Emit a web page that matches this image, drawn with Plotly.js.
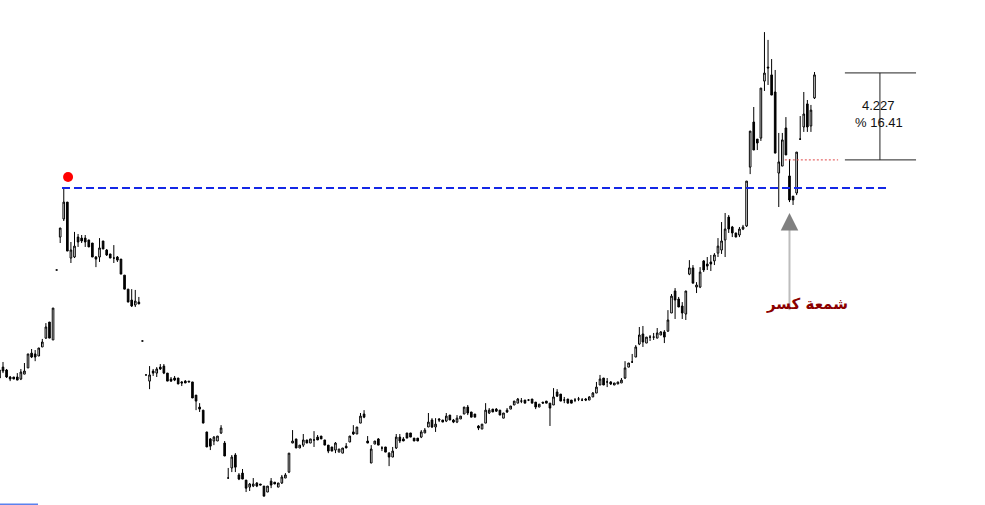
<!DOCTYPE html>
<html>
<head>
<meta charset="utf-8">
<script src="https://cdn.plot.ly/plotly-3.0.1.min.js"></script>
<style>html,body{margin:0;padding:0;background:#fff;}#chart{width:985px;height:505px;}</style>
</head>
<body>
<div id="chart"></div>
<script>
// OHLC values (one candle per session)
var openP = [15.55,15.69,15.55,15.21,15.21,15.21,15.11,15.35,15.65,16.37,16.33,16.23,16.67,17.10,17.88,17.01,20.41,22.01,22.89,23.71,
20.99,21.04,22.01,21.96,21.96,21.87,21.72,21.04,21.04,21.82,21.38,21.19,20.99,21.04,20.94,20.16,19.48,18.95,18.71,18.85,
16.96,15.31,15.01,15.50,15.40,15.69,15.74,15.40,15.11,15.16,15.16,14.97,15.01,15.01,14.97,14.33,13.75,13.60,12.54,12.20,
12.10,12.10,12.49,12.00,10.30,10.79,11.42,10.45,10.54,10.20,9.86,9.91,10.06,10.01,9.91,9.62,10.15,10.10,9.86,10.06,
10.30,10.59,12.00,12.20,11.76,11.90,12.15,12.00,12.15,12.29,12.34,12.15,11.90,11.81,11.66,11.56,11.51,11.85,12.05,12.54,
12.44,12.97,13.41,12.10,11.03,11.95,12.20,11.76,11.81,11.51,11.32,11.76,12.29,12.20,12.49,12.49,12.24,12.24,12.29,12.49,
12.78,13.12,12.78,13.17,13.12,13.07,13.36,13.12,13.02,13.17,13.41,13.75,13.51,13.41,12.83,12.68,12.97,13.46,13.65,13.65,
13.60,13.21,13.60,13.65,13.85,13.94,14.04,14.09,14.09,14.14,13.99,13.75,13.99,14.04,13.94,13.85,14.48,14.38,14.09,14.14,
14.09,14.09,14.14,14.09,14.14,14.09,14.24,14.43,14.82,15.16,14.97,14.97,14.82,14.87,14.92,15.16,15.69,15.94,16.18,16.81,
17.30,16.86,17.15,17.15,17.10,17.25,17.40,17.44,18.32,19.39,19.00,18.66,18.27,20.21,20.51,19.58,19.58,20.85,20.70,20.80,
20.85,21.23,21.38,21.87,22.98,22.50,22.21,22.11,22.40,22.55,25.41,27.60,26.77,26.82,29.59,30.27,29.89,29.06,25.12,25.46,
27.31,24.98,24.00,24.15,26.77,27.36,28.48,27.41,28.77];
var highP = [15.65,15.94,15.60,15.26,15.21,15.40,15.60,15.89,16.33,16.57,16.52,16.62,17.06,17.83,17.88,18.56,20.41,22.45,24.39,23.71,
21.77,22.26,22.16,22.11,22.11,21.87,21.72,21.09,21.96,21.82,21.43,21.19,21.62,21.09,20.94,20.16,19.48,19.48,19.44,19.10,
16.96,15.31,15.74,15.60,15.69,15.84,15.84,15.40,15.21,15.26,15.16,15.01,15.06,15.01,14.97,14.33,13.94,13.60,12.54,12.24,
12.34,12.34,12.87,12.10,10.79,11.42,11.51,10.54,10.74,10.20,10.06,10.30,10.10,10.01,9.91,9.91,10.30,10.10,10.06,10.45,
10.54,11.51,12.63,12.20,11.90,12.44,12.15,12.20,12.58,12.39,12.34,12.15,11.90,11.81,12.05,11.71,11.76,12.00,12.34,12.87,
12.78,13.46,13.60,12.34,11.90,12.10,12.24,11.85,11.81,11.56,11.81,12.44,12.44,12.29,12.49,12.49,12.24,12.24,12.63,12.73,
13.46,13.21,13.21,13.21,13.12,13.46,13.36,13.17,13.36,13.31,13.75,13.85,13.51,13.41,12.87,12.92,13.94,13.70,13.65,13.70,
13.60,13.46,13.70,13.80,14.04,14.19,14.19,14.09,14.14,14.14,13.99,13.89,13.99,14.04,13.94,14.67,14.62,14.38,14.24,14.14,
14.09,14.19,14.24,14.19,14.19,14.28,14.48,14.97,15.31,15.16,15.16,15.01,14.92,14.97,15.16,15.98,15.89,16.33,16.76,17.64,
17.69,17.15,17.25,17.35,17.59,17.44,17.49,18.46,19.24,19.53,19.10,18.85,19.39,20.89,20.65,19.82,20.55,20.89,21.04,21.14,
21.23,21.96,22.74,23.18,23.08,22.55,22.21,22.50,22.60,24.73,27.16,28.33,26.77,29.25,31.97,31.59,30.66,30.13,27.07,27.07,
27.84,25.80,24.00,26.14,27.89,29.06,28.67,28.43,30.03];
var lowP = [15.06,15.40,15.16,15.01,15.11,15.06,15.06,15.35,15.65,16.13,15.98,16.23,16.67,17.06,17.10,17.01,20.41,21.72,22.79,21.33,
20.75,20.99,21.53,21.72,21.53,21.53,21.04,20.55,20.80,21.43,21.09,20.99,20.75,20.80,20.21,19.48,18.85,18.61,18.61,18.76,
16.96,15.31,14.62,15.26,15.21,15.55,15.35,15.01,14.97,15.01,14.87,14.77,14.92,14.97,14.19,13.60,13.51,12.97,11.81,11.66,
11.90,12.10,12.44,11.37,10.30,10.59,10.59,10.20,10.25,9.62,9.67,9.86,9.86,9.96,9.42,9.62,9.81,10.01,9.86,10.01,
10.30,10.54,12.00,11.76,11.76,11.81,12.00,12.00,11.81,12.15,12.20,11.90,11.51,11.61,11.51,11.56,11.51,11.76,12.05,12.39,
12.44,12.97,13.21,12.00,11.03,11.95,11.90,11.61,11.56,10.88,11.32,11.71,12.00,12.10,12.24,12.29,12.10,12.10,12.24,12.49,
12.78,12.73,12.54,13.02,13.02,13.02,13.12,12.97,12.97,13.17,13.41,13.36,13.26,13.26,12.63,12.68,12.97,13.41,13.51,13.51,
13.36,13.21,13.46,13.65,13.85,13.94,13.94,13.94,14.04,13.94,13.65,13.75,13.94,13.94,12.83,13.85,14.24,14.04,13.94,13.94,
13.94,13.99,14.04,14.04,14.04,14.09,14.24,14.43,14.82,14.82,14.72,14.82,14.82,14.87,14.92,15.11,15.69,15.89,16.18,16.76,
16.67,16.86,16.96,17.01,17.10,17.25,16.86,17.40,18.32,18.03,18.61,18.03,17.98,20.16,19.77,19.29,19.53,20.31,20.41,20.36,
20.65,21.04,21.19,21.04,22.21,22.01,22.01,22.01,22.35,22.50,25.07,26.24,26.24,26.68,29.11,29.40,28.91,26.09,23.47,25.46,
26.00,23.71,23.57,24.05,26.73,27.12,27.12,27.12,28.72];
var closeP = [15.16,15.50,15.21,15.11,15.11,15.06,15.45,15.50,16.33,16.18,16.18,16.62,16.91,17.64,17.10,18.56,20.41,22.45,23.71,21.33,
21.38,21.57,21.77,21.82,21.77,21.53,21.04,20.94,21.48,21.43,21.14,20.99,20.99,20.89,20.21,19.48,18.85,18.66,18.90,18.76,
16.96,15.31,15.31,15.40,15.60,15.60,15.40,15.01,15.01,15.06,14.87,14.92,14.92,14.97,14.19,14.04,13.65,12.97,11.81,11.85,
12.29,12.34,12.73,11.37,10.30,11.32,10.83,10.25,10.25,9.81,10.01,10.01,9.91,9.96,9.42,9.91,9.96,10.01,10.06,10.35,
10.45,11.51,12.10,11.76,11.90,12.15,12.00,12.20,12.15,12.15,12.20,11.90,11.61,11.61,12.00,11.71,11.76,11.76,12.34,12.44,
12.78,13.31,13.26,12.00,11.71,12.10,11.90,11.76,11.56,11.32,11.61,12.29,12.10,12.10,12.24,12.29,12.10,12.10,12.54,12.63,
13.02,12.78,12.92,13.12,13.02,13.31,13.12,13.02,13.21,13.31,13.75,13.46,13.26,13.26,12.73,12.92,13.60,13.60,13.51,13.55,
13.36,13.46,13.51,13.80,14.04,14.14,14.04,13.94,14.09,13.94,13.75,13.89,13.94,13.94,13.70,14.24,14.28,14.04,14.09,13.94,
13.94,14.09,14.14,14.09,14.09,14.24,14.43,14.72,15.11,14.82,14.97,14.87,14.92,14.97,15.06,15.65,15.89,15.94,16.67,17.25,
16.91,17.15,17.15,17.15,17.35,17.40,17.15,17.98,19.14,18.95,18.61,18.32,19.39,20.51,19.77,19.68,20.31,20.41,20.60,20.70,
21.14,21.57,21.82,22.40,22.40,22.21,22.01,22.40,22.50,24.73,27.16,26.24,26.58,29.25,29.98,30.23,28.91,26.09,25.66,26.73,
26.00,23.81,23.81,26.14,26.77,27.99,27.36,28.18,29.89];

// annotation values
var moveValue = 4.227;
var movePct = 16.41;
var baseLevel = 25.76;            // breakout candle reference level
var topLevel = baseLevel + moveValue;
var resistance = highP[18];       // old peak level
var breakoutIndex = 221;          // "breakout candle"
var labelMove = "4.227";
var labelPct = "% 16.41";
var labelCandle = "شمعة كسر";

var idx = openP.map(function(_, i){ return i; });

var candles = {
  type: 'candlestick',
  x: idx, open: openP, high: highP, low: lowP, close: closeP,
  increasing: {line: {color: '#000', width: 1}, fillcolor: '#ffffff'},
  decreasing: {line: {color: '#000', width: 1}, fillcolor: '#000000'},
  whiskerwidth: 0,
  hoverinfo: 'none',
  showlegend: false
};

var peakDot = {
  type: 'scatter', mode: 'markers',
  x: [19.2], y: [24.93],
  marker: {color: '#ff0000', size: 10},
  hoverinfo: 'none', showlegend: false
};

var layout = {
  width: 985, height: 505,
  margin: {l: 0, r: 0, t: 0, b: 0},
  paper_bgcolor: '#ffffff', plot_bgcolor: '#ffffff',
  showlegend: false,
  boxgap: 0.35,
  xaxis: {range: [0.161, 275.69], visible: false, showgrid: false, zeroline: false, rangeslider: {visible: false}, fixedrange: true},
  yaxis: {range: [8.99, 33.53], visible: false, showgrid: false, zeroline: false, fixedrange: true},
  shapes: [
    {type: 'line', xref: 'x', yref: 'y', x0: 17.5, x1: 249.1, y0: resistance, y1: resistance,
     line: {color: '#1428e6', width: 2, dash: '8px,4px'}},
    {type: 'line', xref: 'x', yref: 'y', x0: 219.7, x1: 234.6, y0: baseLevel, y1: baseLevel,
     line: {color: '#e04848', width: 1, dash: '2px,2px'}},
    {type: 'line', xref: 'x', yref: 'y', x0: 236.5, x1: 256.4, y0: topLevel, y1: topLevel,
     line: {color: '#222', width: 1}},
    {type: 'line', xref: 'x', yref: 'y', x0: 236.5, x1: 256.4, y0: baseLevel, y1: baseLevel,
     line: {color: '#222', width: 1}},
    {type: 'line', xref: 'x', yref: 'y', x0: 246.3, x1: 246.3, y0: baseLevel, y1: topLevel,
     line: {color: '#222', width: 1}},
    {type: 'line', xref: 'x', yref: 'y', x0: breakoutIndex, x1: breakoutIndex, y0: 18.46, y1: 22.37,
     line: {color: '#bdbdbd', width: 2}},
    {type: 'line', xref: 'paper', yref: 'paper', x0: 0, x1: 0.0386, y0: 0.001, y1: 0.001,
     line: {color: '#5b82ee', width: 2}}
  ],
  annotations: [
    {x: breakoutIndex, y: 23.18, xref: 'x', yref: 'y', text: '', showarrow: true,
     ax: 0, ay: 18, arrowhead: 2, arrowsize: 1.75, arrowwidth: 2, arrowcolor: '#808080', standoff: 0},
    {x: 246.0, y: 28.38, xref: 'x', yref: 'y', text: labelMove, showarrow: false,
     font: {family: 'Liberation Sans, Arial, sans-serif', size: 13, color: '#111'}},
    {x: 246.0, y: 27.58, xref: 'x', yref: 'y', text: labelPct, showarrow: false,
     font: {family: 'Liberation Sans, Arial, sans-serif', size: 13, color: '#111'}},
    {x: 225.9, y: 18.76, xref: 'x', yref: 'y', text: '<b>' + labelCandle + '</b>', showarrow: false,
     font: {family: 'DejaVu Sans, sans-serif', size: 15, color: '#8b0000'}}
  ]
};

Plotly.newPlot('chart', [candles, peakDot], layout, {staticPlot: true, displayModeBar: false});
</script>
</body>
</html>
